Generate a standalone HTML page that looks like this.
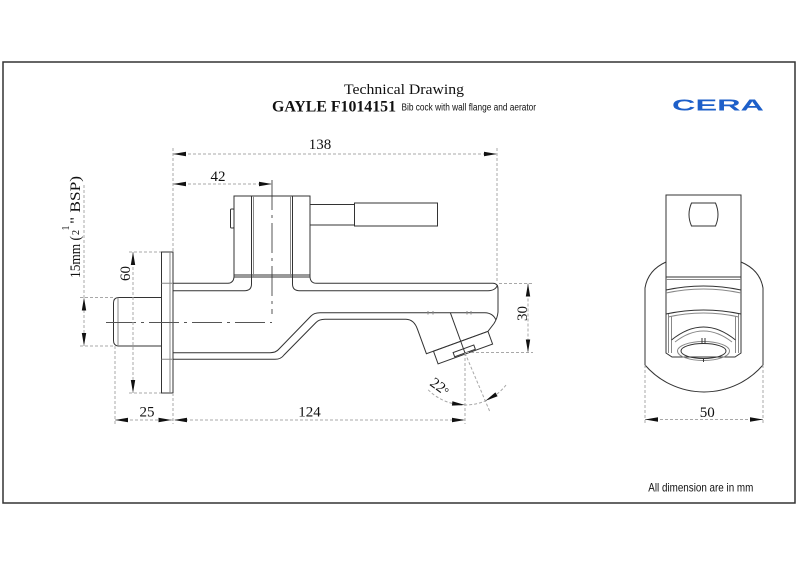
<!DOCTYPE html>
<html><head><meta charset="utf-8"><style>
html,body{margin:0;padding:0;background:#fff;}
svg{display:block;}
.o{fill:none;stroke:#333;stroke-width:1}
.g{fill:none;stroke:#888;stroke-width:1}
.d{fill:none;stroke:#a8a8a8;stroke-width:1;stroke-dasharray:3 2}
.c{fill:none;stroke:#555;stroke-width:1;stroke-dasharray:30 5 3 5}
.a{fill:#111;stroke:none}
.t{font-family:"Liberation Serif",serif;font-size:15px;fill:#111}
</style></head><body>
<svg width="800" height="565" viewBox="0 0 800 565" xmlns="http://www.w3.org/2000/svg">
<rect x="0" y="0" width="800" height="565" fill="#fff"/>
<rect x="3" y="62" width="792" height="441" fill="none" stroke="#333" stroke-width="1.5"/>

<!-- Titles -->
<text class="t" x="344" y="94" textLength="120" lengthAdjust="spacingAndGlyphs">Technical Drawing</text>
<text class="t" x="272" y="111.5" font-weight="bold" style="font-size:15.5px" textLength="124" lengthAdjust="spacingAndGlyphs">GAYLE F1014151</text>
<text x="401.5" y="110.5" font-family="Liberation Sans, sans-serif" font-size="10" fill="#111" textLength="134.5" lengthAdjust="spacingAndGlyphs">Bib cock with wall flange and aerator</text>
<text x="672" y="110.5" font-family="Liberation Sans, sans-serif" font-size="15.5" font-weight="bold" fill="#1d5fc9" textLength="92" lengthAdjust="spacingAndGlyphs">CERA</text>

<!-- ===== Side view ===== -->
<rect class="o" x="161.5" y="252" width="11.5" height="141"/>
<line class="g" x1="170" y1="252" x2="170" y2="393"/>
<path class="g" d="M161.5,283.3H173M161.5,359.3H173"/>
<path class="o" d="M161.5,297.5H118Q113.5,298 113.5,303V340.5Q113.5,345.5 118,346H161.5"/>
<line class="g" x1="118" y1="297.5" x2="118" y2="346"/>
<line class="c" x1="106" y1="322.5" x2="272" y2="322.5"/>
<line class="c" x1="272" y1="180" x2="272" y2="314"/>

<rect class="o" x="234" y="196" width="76" height="81"/>
<line class="o" x1="234" y1="275" x2="310" y2="275"/>
<rect class="o" x="230.5" y="209" width="3.5" height="19" rx="1"/>
<line class="g" x1="253.5" y1="196" x2="253.5" y2="277"/>
<line class="g" x1="290.5" y1="196" x2="290.5" y2="277"/>
<path class="o" d="M251.5,196V284Q251.5,290.7 244.5,290.7H173"/>
<path class="o" d="M292.5,196V284Q292.5,290.7 299.5,290.7H488Q495.5,290.7 497.5,285"/>
<rect class="o" x="310" y="204.5" width="44.5" height="20.5"/>
<rect class="o" x="354.5" y="203" width="83" height="23"/>

<path class="o" d="M173,283.3H228Q233.5,283 234,277"/>
<path class="o" d="M310,277Q310.5,283.3 316.5,283.3H493Q498,283.5 498,289V312Q497.5,318 494,323.5L488,331.3"/>
<path class="o" d="M173,352.7H270Q276,352.7 279,349L311,316Q314,312.7 320,312.7H485Q493,313 496,320"/>
<path class="o" d="M173,359.3H275Q281,359.3 284,355L316,322.5Q319,319.3 325,319.3H406Q414,319.5 417.5,329.3L426.4,353.7L488,331.3"/>
<path class="g" d="M428,311V314.5M433,311V314.5M467,311V314.5M471,311V314.5"/>

<g transform="translate(465,353) rotate(-20)">
  <rect class="o" x="-29" y="-12.5" width="58" height="13.5"/>
  <rect class="o" x="-11" y="-4.5" width="22" height="4.5"/>
  <line class="o" x1="0" y1="-43" x2="0" y2="0"/>
</g>

<!-- 138 -->
<line class="d" x1="173" y1="148" x2="173" y2="252"/>
<line class="d" x1="497" y1="148" x2="497" y2="283"/>
<line class="d" x1="173" y1="154" x2="497" y2="154"/>
<polygon class="a" points="173,154 186,151.8 186,156.2"/>
<polygon class="a" points="497,154 484,151.8 484,156.2"/>
<text class="t" x="320" y="149" text-anchor="middle">138</text>
<!-- 42 -->
<line class="d" x1="173" y1="184" x2="272" y2="184"/>
<polygon class="a" points="173,184 186,181.8 186,186.2"/>
<polygon class="a" points="272,184 259,181.8 259,186.2"/>
<text class="t" x="218" y="181" text-anchor="middle">42</text>
<!-- 60 -->
<line class="d" x1="129" y1="252" x2="161" y2="252"/>
<line class="d" x1="129" y1="393" x2="161" y2="393"/>
<line class="d" x1="133" y1="252" x2="133" y2="393"/>
<polygon class="a" points="133,252 130.8,265 135.2,265"/>
<polygon class="a" points="133,393 130.8,380 135.2,380"/>
<text class="t" transform="translate(130,273.5) rotate(-90)" text-anchor="middle">60</text>
<!-- 15mm -->
<line class="d" x1="80" y1="297.5" x2="113" y2="297.5"/>
<line class="d" x1="80" y1="346" x2="113" y2="346"/>
<line class="d" x1="84" y1="185" x2="84" y2="346"/>
<polygon class="a" points="84,297.5 81.8,310.5 86.2,310.5"/>
<polygon class="a" points="84,346 81.8,333 86.2,333"/>
<g transform="translate(80,278) rotate(-90)">
  <text class="t" x="0" y="0" textLength="42" lengthAdjust="spacingAndGlyphs">15mm (</text>
  <text class="t" x="43" y="-1" style="font-size:10px">2</text>
  <text class="t" x="47.5" y="-11" style="font-size:10px">1</text>
  <text class="t" x="54" y="0" textLength="48" lengthAdjust="spacingAndGlyphs">" BSP)</text>
</g>
<!-- 25 / 124 -->
<line class="d" x1="115" y1="346" x2="115" y2="424"/>
<line class="d" x1="173" y1="393" x2="173" y2="424"/>
<line class="d" x1="465" y1="353" x2="465" y2="424"/>
<line class="d" x1="115" y1="420" x2="465" y2="420"/>
<polygon class="a" points="115,420 128,417.8 128,422.2"/>
<polygon class="a" points="171.5,420 158.5,417.8 158.5,422.2"/>
<polygon class="a" points="174,420 187,417.8 187,422.2"/>
<polygon class="a" points="465,420 452,417.8 452,422.2"/>
<text class="t" x="147" y="416.7" text-anchor="middle">25</text>
<text class="t" x="309.5" y="416.7" text-anchor="middle">124</text>
<!-- 30 -->
<line class="d" x1="499" y1="283.5" x2="533" y2="283.5"/>
<line class="d" x1="466" y1="352.5" x2="533" y2="352.5"/>
<line class="d" x1="528" y1="283.5" x2="528" y2="352.5"/>
<polygon class="a" points="528,283.5 525.8,296.5 530.2,296.5"/>
<polygon class="a" points="528,352.5 525.8,339.5 530.2,339.5"/>
<text class="t" transform="translate(527,313.5) rotate(-90)" text-anchor="middle">30</text>
<!-- 22 deg -->
<line class="d" x1="465" y1="353" x2="490" y2="412"/>
<path class="d" d="M428.2,389.8A52,52 0 0 0 506,385"/>
<polygon class="a" points="465,405 451.9,405.6 452.4,401.2"/>
<polygon class="a" points="485.3,400.9 497.6,396.2 495.4,392.4"/>
<text class="t" transform="translate(440,386.5) rotate(36)" text-anchor="middle" y="5">22<tspan style="font-size:12px">°</tspan></text>

<!-- ===== End view ===== -->
<rect class="o" x="666" y="195" width="75" height="82"/>
<path class="o" d="M691.5,203H715.5Q720.5,214.5 715.5,226H691.5Q686.5,214.5 691.5,203Z"/>
<path class="o" d="M666,262Q648,270 645,288V365A78,78 0 0 0 763,365V288Q760,270 741,262"/>
<path class="o" d="M666,277V353L672,357H735L741,353V277"/>
<line class="g" x1="666" y1="279.5" x2="741" y2="279.5"/>
<path class="o" d="M666,290Q703.5,282 741,290"/>
<path class="g" d="M666,293Q703.5,285 741,293"/>
<path class="o" d="M666,314Q703.5,306 741,314"/>
<path class="g" d="M668,317Q703.5,309 739,317"/>
<path class="g" d="M668.5,314V353M671.5,316V353M735.5,316V353M738.5,314V353"/>
<path class="o" d="M671.5,340Q703.5,314 735.5,340"/>
<path class="g" d="M675,342Q703.5,320 732,342"/>
<ellipse class="g" cx="703.5" cy="351" rx="26" ry="9.5"/>
<ellipse class="o" cx="703.5" cy="351" rx="22.5" ry="7.5"/>
<path class="o" d="M702,338V343.5M705,338V343.5M703.5,358.5V362"/>
<!-- 50 -->
<line class="d" x1="645" y1="365" x2="645" y2="424"/>
<line class="d" x1="763" y1="365" x2="763" y2="424"/>
<line class="d" x1="645" y1="419.5" x2="763" y2="419.5"/>
<polygon class="a" points="645,419.5 658,417.3 658,421.7"/>
<polygon class="a" points="763,419.5 750,417.3 750,421.7"/>
<text class="t" x="707.3" y="417" text-anchor="middle">50</text>

<text x="648.3" y="491.7" font-family="Liberation Sans, sans-serif" font-size="12" fill="#111" textLength="105" lengthAdjust="spacingAndGlyphs">All dimension are in mm</text>
</svg>
</body></html>
